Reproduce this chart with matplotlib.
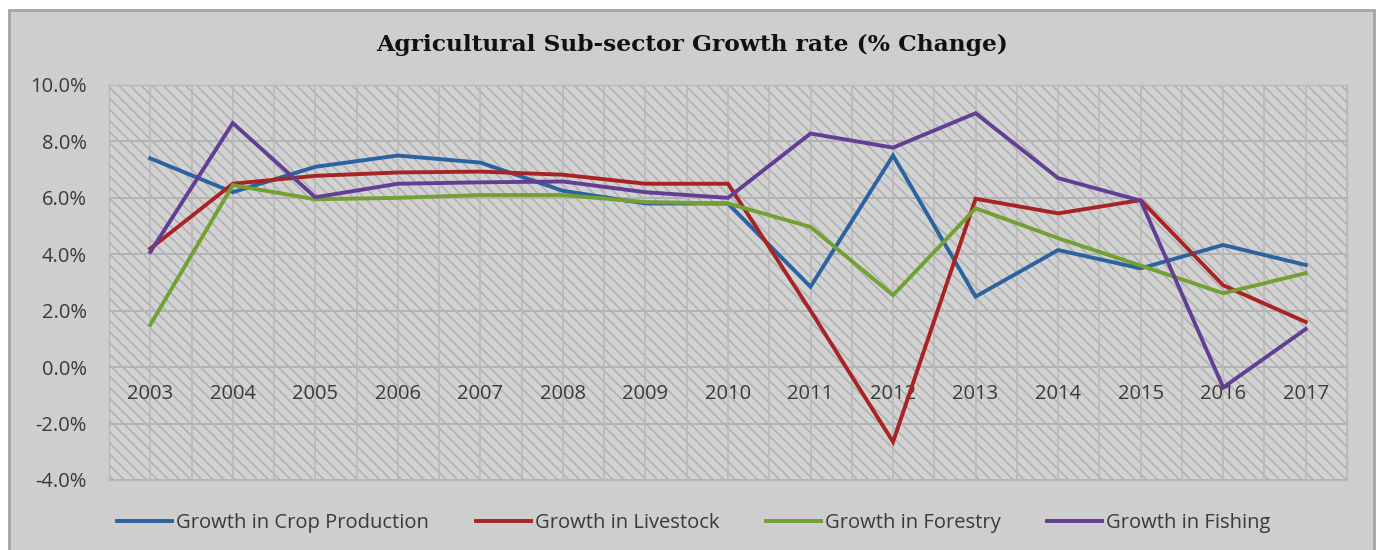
import matplotlib
matplotlib.use("Agg")
import matplotlib.pyplot as plt
from matplotlib.patches import Rectangle
from matplotlib.ticker import FuncFormatter, MultipleLocator

years = ["2003", "2004", "2005", "2006", "2007", "2008", "2009", "2010",
         "2011", "2012", "2013", "2014", "2015", "2016", "2017"]
crop = [7.4, 6.2, 7.1, 7.5, 7.25, 6.25, 5.8, 5.8, 2.85, 7.5, 2.5, 4.15, 3.5, 4.33, 3.62]
livestock = [4.2, 6.5, 6.78, 6.9, 6.93, 6.82, 6.5, 6.5, 2.0, -2.65, 5.97, 5.45, 5.92, 2.9, 1.6]
forestry = [1.5, 6.45, 5.95, 6.0, 6.1, 6.1, 5.85, 5.8, 4.97, 2.55, 5.63, 4.57, 3.6, 2.62, 3.33]
fishing = [4.08, 8.65, 6.02, 6.5, 6.55, 6.58, 6.2, 6.0, 8.28, 7.78, 9.0, 6.7, 5.9, -0.72, 1.35]

series = [
    ("Growth in Crop Production", crop, "#2b63a0"),
    ("Growth in Livestock", livestock, "#a82424"),
    ("Growth in Forestry", forestry, "#72a035"),
    ("Growth in Fishing", fishing, "#633f94"),
]

SANS = "Open Sans"
FS = 14.5
TXT = "#3a3a3a"

W, H = 1378, 550
fig = plt.figure(figsize=(W / 100, H / 100), dpi=100)
fig.patch.set_facecolor("white")

# outer chart frame
fig.patches.append(Rectangle((9 / W, -0.01), (1374 - 9) / W, 1 - 10 / H + 0.01,
                             transform=fig.transFigure, facecolor="#cecece",
                             edgecolor="#a3a3a3", linewidth=2.0, zorder=-10))

ax = fig.add_axes([109 / W, 1 - 480 / H, (1347 - 109) / W, (480 - 85) / H])
ax.set_facecolor("#d2d2d2")
plt.rcParams["hatch.linewidth"] = 1.1
ax.add_patch(Rectangle((0, 0), 1, 1, transform=ax.transAxes, facecolor="#d2d2d2",
                       edgecolor="#afafaf", hatch=chr(92) * 3, linewidth=0, zorder=0))

n = len(years)
x = list(range(n))
ax.set_xlim(-0.5, n - 0.5)
ax.set_ylim(-4, 10)
ax.yaxis.set_major_locator(MultipleLocator(2))
ax.yaxis.set_major_formatter(FuncFormatter(lambda v, p: f"{v:.1f}%"))
ax.set_xticks([])
ax.grid(False)
for yv in range(-4, 11, 2):
    ax.axhline(yv, color="#b3b3b3", lw=1.4, zorder=1)
for k in range(2 * n + 1):
    ax.axvline(-0.5 + 0.5 * k, color="#b9b9b9", lw=1.2, zorder=1)

for sp in ax.spines.values():
    sp.set_color("#b9b9b9")
    sp.set_linewidth(1.0)

ax.tick_params(axis="y", length=0, pad=16, labelsize=FS, labelcolor=TXT)
for lab in ax.get_yticklabels():
    lab.set_fontfamily(SANS)

handles = []
for name, vals, col in series:
    h, = ax.plot(x, vals, color=col, lw=2.8, label=name, zorder=3,
                 solid_joinstyle="miter")
    handles.append(h)

for i, yr in enumerate(years):
    ax.annotate(yr, xy=(i, 0), xytext=(0, -19), textcoords="offset points",
                ha="center", va="center", fontsize=FS, color=TXT,
                family=SANS, zorder=2)

fig.text(0.502, 1 - 45 / H, "Agricultural Sub-sector Growth rate (% Change)",
         ha="center", va="center", fontsize=16.8, fontweight="bold",
         family="DejaVu Serif", color="#111111")

leg = fig.legend(handles=handles, loc="center left",
                 bbox_to_anchor=(117 / W, 1 - 523 / H), ncol=4, frameon=False,
                 borderpad=0, borderaxespad=0, handlelength=2.73,
                 handletextpad=0.2, columnspacing=2.32,
                 prop={"family": SANS, "size": FS})
for t in leg.get_texts():
    t.set_color(TXT)

fig.savefig("out.png", dpi=100, facecolor=fig.get_facecolor())
